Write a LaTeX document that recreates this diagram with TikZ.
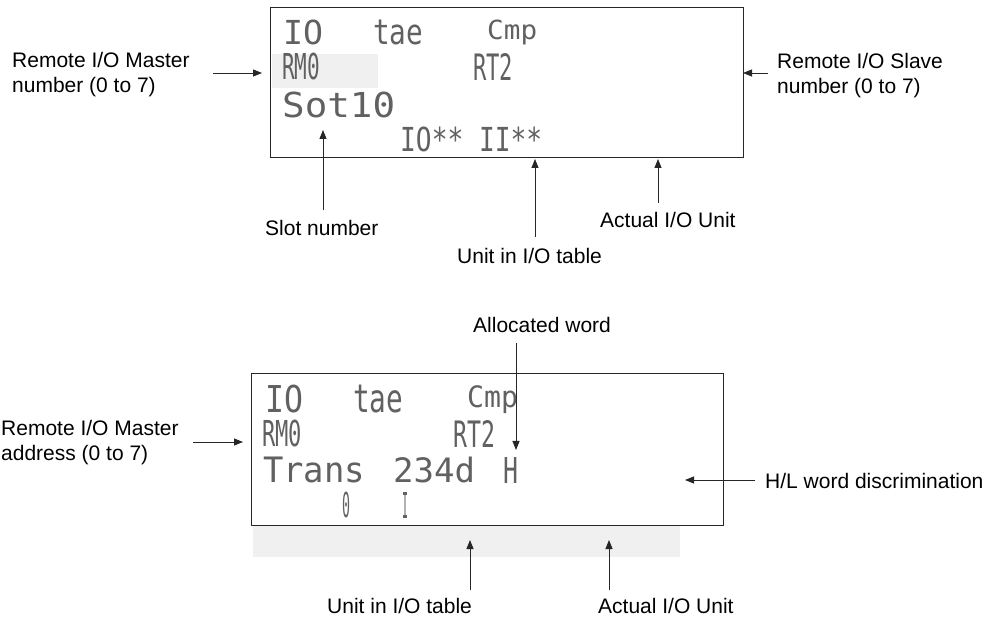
\documentclass[tikz,border=0pt]{standalone}
\usepackage{fontspec}
\usepackage{graphicx}
\setmainfont{Liberation Sans}
\newfontfamily\lcdfont{DejaVu Sans Mono}
\usetikzlibrary{arrows.meta}
\definecolor{lcdgrey}{HTML}{F0F0F0}
\newcommand\lcdtxt[3]{\resizebox*{#1pt}{#2pt}{\lcdfont #3}}
\tikzset{
  arr/.style={-{Triangle[length=9pt,width=7pt]}, line width=0.8pt, draw=black!85},
  lbl/.style={font=\fontsize{21}{25}\selectfont, inner sep=0pt, anchor=north west, align=left},
  lcd/.style={inner sep=0pt, anchor=north west, text=black!62},
  panel/.style={draw=black!85, line width=1pt},
}
\begin{document}
\begin{tikzpicture}[x=1pt,y=-1pt]
\useasboundingbox (0,0) rectangle (989,620);

% ---------------- top display ----------------
\fill[lcdgrey] (272,54) rectangle (378,88);
\draw[panel] (270,8) rectangle (743,158);
\node[lcd] (t1a) at (283,20) {\lcdtxt{40}{25}{IO}};
\node[lcd] (t1b) at (373,20) {\lcdtxt{50}{25}{tae}};
\node[lcd] (t1c) at (487,20) {\lcdtxt{50}{25}{Cmp}};
\node[lcd] (t2a) at (282,53) {\lcdtxt{38}{27}{RM0}};
\node[lcd] (t2b) at (473,53) {\lcdtxt{40}{27}{RT2}};
\node[lcd] (t3a) at (282,92) {\lcdtxt{113}{26}{Sot10}};
\node[lcd] (t4a) at (400,127) {\lcdtxt{142}{25}{IO** II**}};

\node[lbl] (tlm) at (12,52) {Remote I/O Master\\number (0 to 7)};
\node[lbl] (trs) at (777,53) {Remote I/O Slave\\number (0 to 7)};
\node[lbl] (tsl) at (265,220) {Slot number};
\node[lbl] (tut) at (457,248) {Unit in I/O table};
\node[lbl] (tau) at (600,212) {Actual I/O Unit};

\coordinate (a1s) at (213,73);  \coordinate (a1e) at (262,73);
\coordinate (a2s) at (768,73);  \coordinate (a2e) at (743,73);
\coordinate (a3s) at (323,210); \coordinate (a3e) at (323,130);
\coordinate (a4s) at (535,237); \coordinate (a4e) at (535,159);
\coordinate (a5s) at (658,203); \coordinate (a5e) at (658,159);
\draw[arr] (a1s) -- (a1e);
\draw[arr] (a2s) -- (a2e);
\draw[arr] (a3s) -- (a3e);
\draw[arr] (a4s) -- (a4e);
\draw[arr] (a5s) -- (a5e);

% ---------------- bottom display ----------------
\fill[lcdgrey] (253,526) rectangle (680,557);
\draw[panel] (251,374) rectangle (723,525);
\node[lcd] (b1a) at (265,385) {\lcdtxt{38}{28}{IO}};
\node[lcd] (b1b) at (353,385) {\lcdtxt{50}{28}{tae}};
\node[lcd] (b1c) at (467,385) {\lcdtxt{51}{28}{Cmp}};
\node[lcd] (b2a) at (262,420) {\lcdtxt{40}{27}{RM0}};
\node[lcd] (b2b) at (453,420) {\lcdtxt{42}{27}{RT2}};
\node[lcd] (b3a) at (263,457) {\lcdtxt{102}{26}{Trans}};
\node[lcd] (b3b) at (393,457) {\lcdtxt{82}{26}{234d}};
\node[lcd] (b3c) at (503,457) {\lcdtxt{15}{26}{H}};
\node[lcd] (b4a) at (342,492) {\lcdtxt{8}{26}{0}};
\node[lcd] (b4b) at (402,492) {\lcdtxt{6}{26}{I}};

\node[lbl] (bal) at (473,317) {Allocated word};
\node[lbl] (blm) at (1,420) {Remote I/O Master\\address (0 to 7)};
\node[lbl] (bhl) at (765,473) {H/L word discrimination};
\node[lbl] (but) at (327,598) {Unit in I/O table};
\node[lbl] (bau) at (598,598) {Actual I/O Unit};

\coordinate (c1s) at (516,343); \coordinate (c1e) at (516,450);
\coordinate (c2s) at (193,442); \coordinate (c2e) at (243,442);
\coordinate (c3s) at (755,480); \coordinate (c3e) at (685,480);
\coordinate (c4s) at (470,590); \coordinate (c4e) at (470,540);
\coordinate (c5s) at (609,590); \coordinate (c5e) at (609,540);
\draw[arr] (c1s) -- (c1e);
\draw[arr] (c2s) -- (c2e);
\draw[arr] (c3s) -- (c3e);
\draw[arr] (c4s) -- (c4e);
\draw[arr] (c5s) -- (c5e);
\end{tikzpicture}
\end{document}
